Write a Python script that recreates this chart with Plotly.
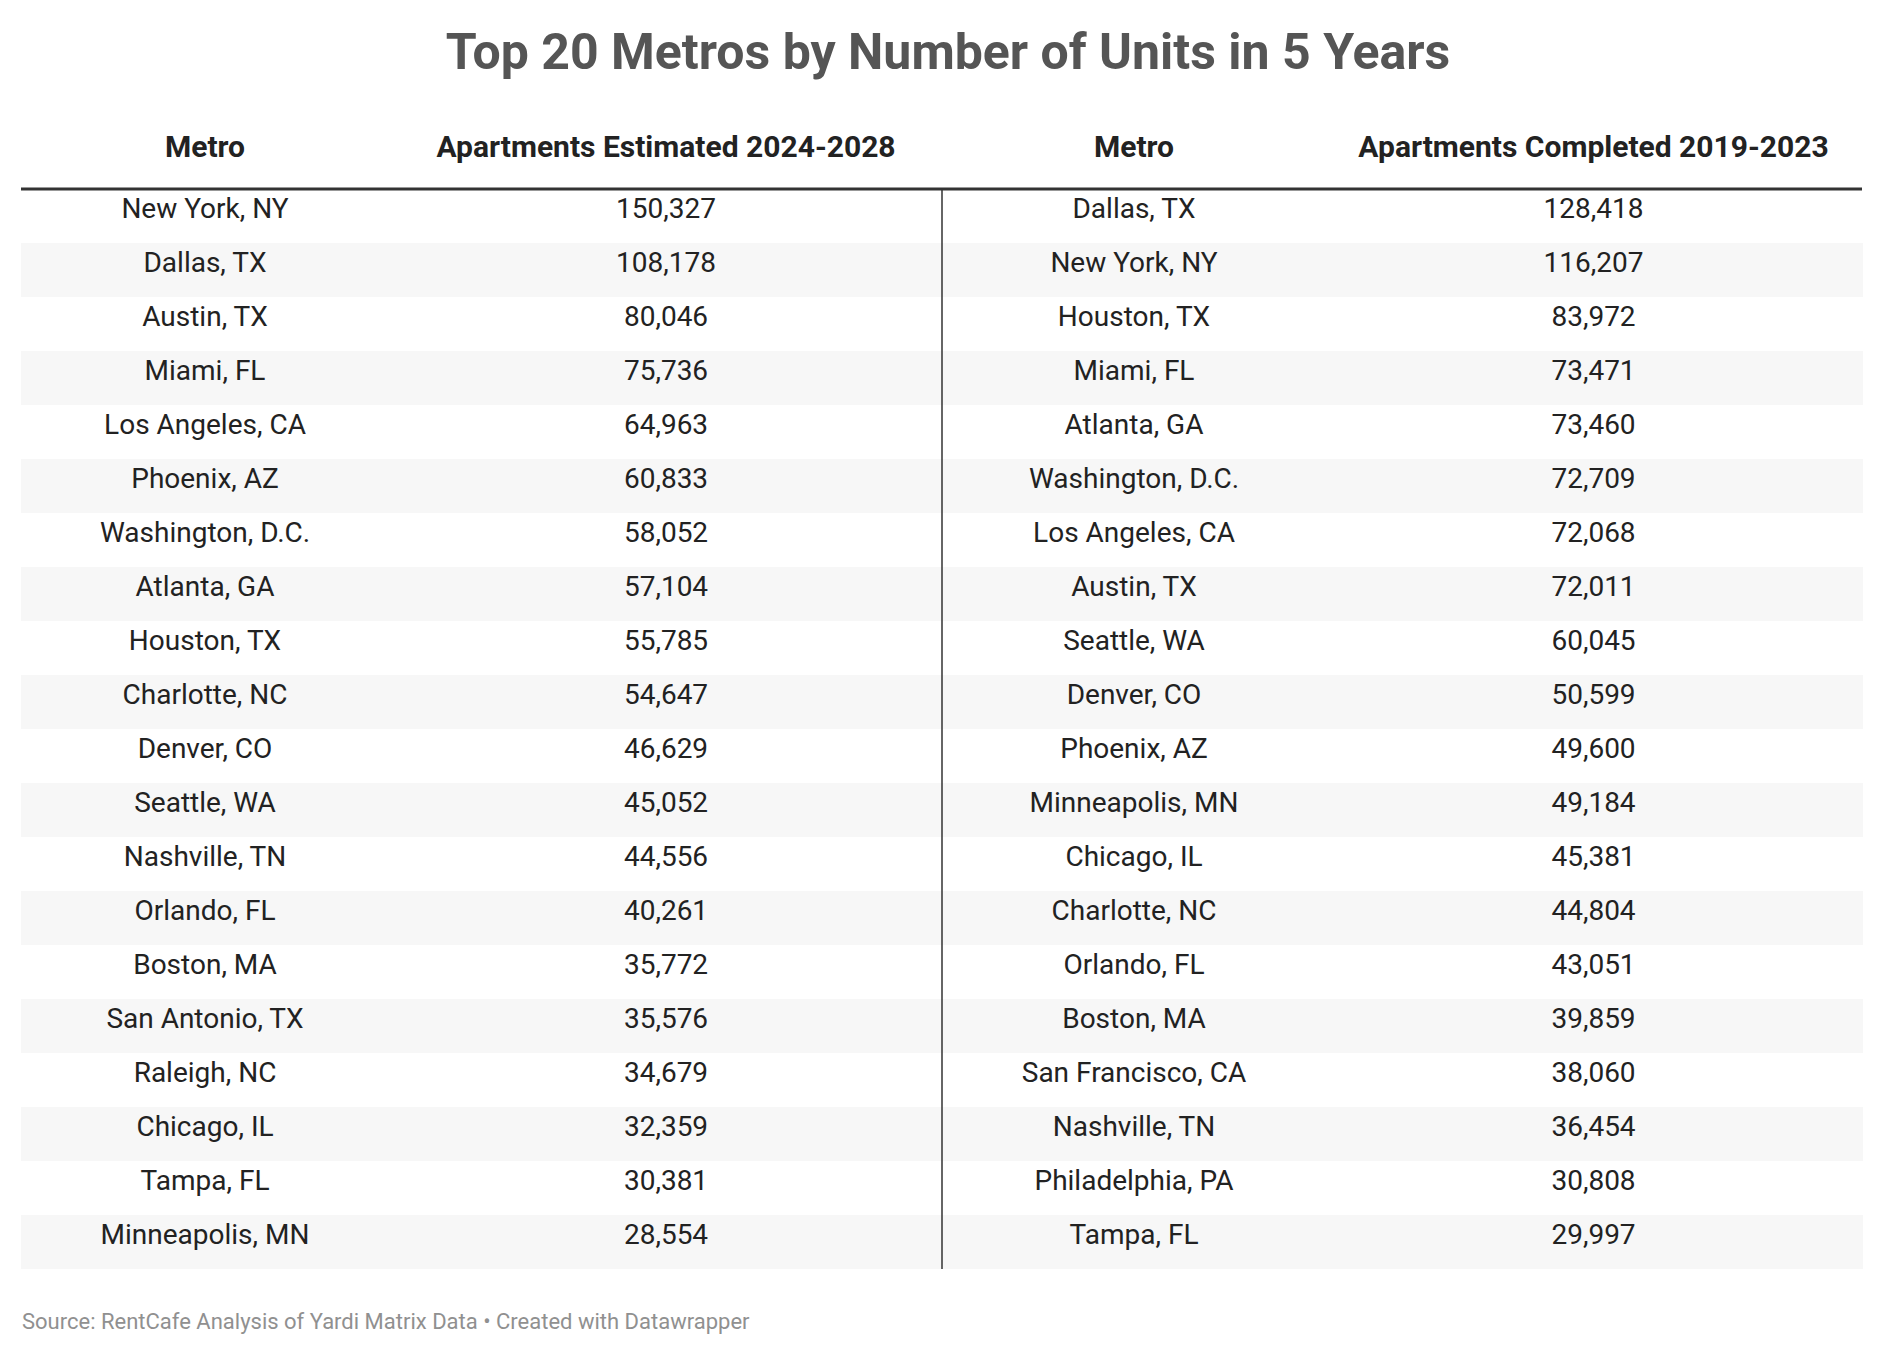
import plotly.graph_objects as go

metros_est = ["New York, NY", "Dallas, TX", "Austin, TX", "Miami, FL", "Los Angeles, CA",
              "Phoenix, AZ", "Washington, D.C.", "Atlanta, GA", "Houston, TX", "Charlotte, NC",
              "Denver, CO", "Seattle, WA", "Nashville, TN", "Orlando, FL", "Boston, MA",
              "San Antonio, TX", "Raleigh, NC", "Chicago, IL", "Tampa, FL", "Minneapolis, MN"]
units_est = [150327, 108178, 80046, 75736, 64963, 60833, 58052, 57104, 55785, 54647,
             46629, 45052, 44556, 40261, 35772, 35576, 34679, 32359, 30381, 28554]

metros_done = ["Dallas, TX", "New York, NY", "Houston, TX", "Miami, FL", "Atlanta, GA",
               "Washington, D.C.", "Los Angeles, CA", "Austin, TX", "Seattle, WA", "Denver, CO",
               "Phoenix, AZ", "Minneapolis, MN", "Chicago, IL", "Charlotte, NC", "Orlando, FL",
               "Boston, MA", "San Francisco, CA", "Nashville, TN", "Philadelphia, PA", "Tampa, FL"]
units_done = [128418, 116207, 83972, 73471, 73460, 72709, 72068, 72011, 60045, 50599,
              49600, 49184, 45381, 44804, 43051, 39859, 38060, 36454, 30808, 29997]

headers = ["Metro", "Apartments Estimated 2024-2028", "Metro", "Apartments Completed 2019-2023"]

W, H = 1880, 1354
top, bottom = 113, 1261
x0, x1 = 13, 1854
line_y, line_bottom = 181, 1261
xdiv = 934

row_fill = ["#ffffff" if i % 2 == 0 else "#f7f7f7" for i in range(len(metros_est))]
fmt = lambda v: f"{v:,}"

fig = go.Figure(go.Table(
    domain=dict(x=[x0 / W, x1 / W], y=[1 - bottom / H, 1 - top / H]),
    columnwidth=[368, 554, 382, 537],
    header=dict(values=[f"<b>{h}</b>" for h in headers],
                height=68, align="center",
                fill_color="white", line_color="white",
                font=dict(family="Roboto", size=30, color="#222222")),
    cells=dict(values=[metros_est, [fmt(v) for v in units_est],
                       metros_done, [fmt(v) for v in units_done]],
               height=54, align="center",
               fill_color=[row_fill] * 4, line=dict(color=[row_fill] * 4, width=1),
               font=dict(family="Roboto", size=28, color="#222222")),
))

fig.add_shape(type="line", xref="paper", yref="paper",
              x0=x0 / W, x1=x1 / W, y0=1 - line_y / H, y1=1 - line_y / H,
              line=dict(color="#333333", width=3))
fig.add_shape(type="line", xref="paper", yref="paper",
              x0=xdiv / W, x1=xdiv / W, y0=1 - line_y / H, y1=1 - line_bottom / H,
              line=dict(color="#333333", width=1.5))

fig.update_layout(
    width=W, height=H,
    margin=dict(l=0, r=0, t=0, b=0),
    paper_bgcolor="white",
    title=dict(text="<b>Top 20 Metros by Number of Units in 5 Years</b>",
               x=0.5, xanchor="center", y=1 - 43 / H, yanchor="middle",
               font=dict(family="Roboto", size=50, color="#555555")),
)
fig.add_annotation(text="Source: RentCafe Analysis of Yardi Matrix Data • Created with Datawrapper",
                   xref="paper", yref="paper", x=12 / W, y=1 - 1313 / H,
                   xanchor="left", yanchor="middle", showarrow=False,
                   font=dict(family="Roboto", size=22, color="#909090"))

fig.write_html("out.html")
